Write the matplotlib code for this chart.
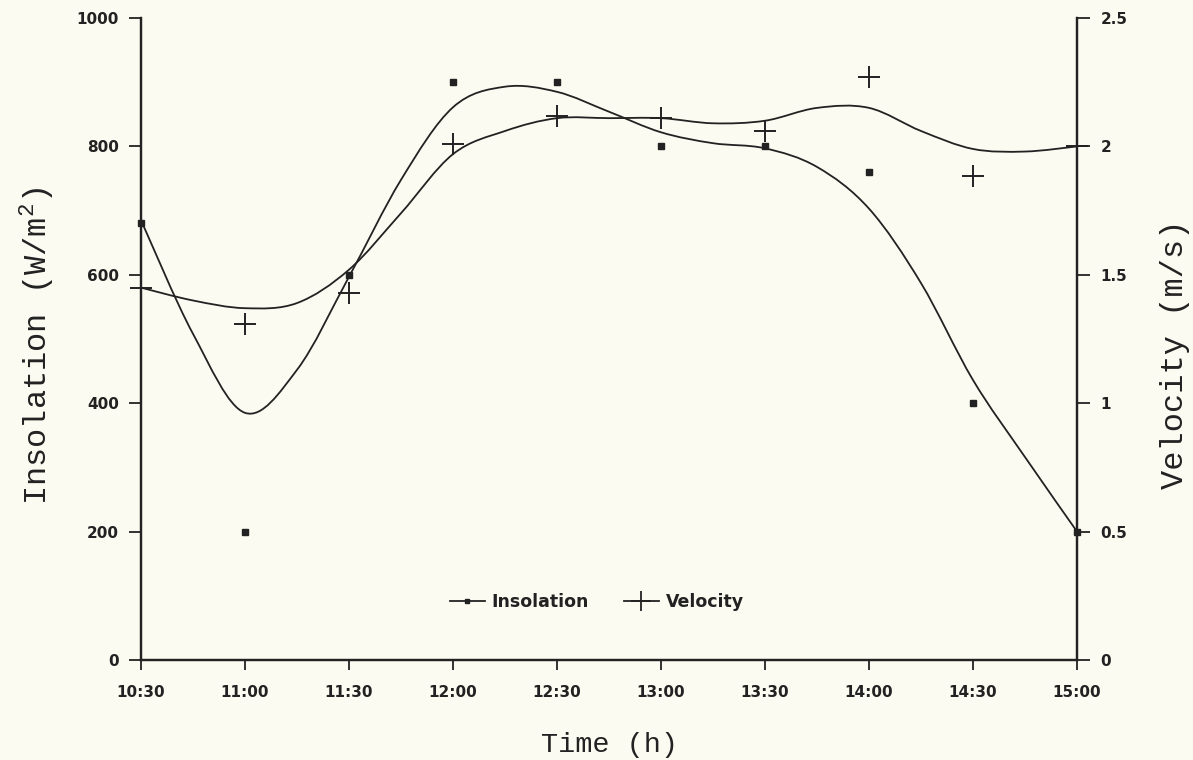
import numpy as np
import matplotlib.pyplot as plt
from matplotlib.path import Path
from matplotlib.patches import PathPatch
from matplotlib.lines import Line2D

plt.rcParams['font.family'] = ['DejaVu Sans']
plt.rcParams['mathtext.fontset'] = 'custom'
plt.rcParams['mathtext.rm'] = 'Liberation Mono'

# measured values, every half hour
times = [10.5, 11.0, 11.5, 12.0, 12.5, 13.0, 13.5, 14.0, 14.5, 15.0]
time_labels = ['10:30', '11:00', '11:30', '12:00', '12:30',
               '13:00', '13:30', '14:00', '14:30', '15:00']
insolation = [680, 200, 600, 900, 900, 800, 800, 760, 400, 200]
velocity = [1.45, 1.31, 1.43, 2.01, 2.12, 2.11, 2.06, 2.27, 1.885, 2.0]

# fitted curves as drawn in the original, read every 15 minutes
curve_times = [10.5, 10.75, 11.0, 11.25, 11.5, 11.75, 12.0, 12.25, 12.5, 12.75,
               13.0, 13.25, 13.5, 13.75, 14.0, 14.25, 14.5, 14.75, 15.0]
insolation_fit = [685, 508, 385, 452, 597, 748, 861, 893, 885, 854,
                  822, 805, 797, 768, 703, 587, 436, 316, 200]
velocity_fit = [1.45, 1.40, 1.37, 1.39, 1.52, 1.74, 1.97, 2.06, 2.11, 2.11,
                2.11, 2.09, 2.10, 2.15, 2.15, 2.06, 1.99, 1.98, 2.00]

ink = '#222222'
paper = '#fcfbf1'


def smooth_path(x, y):
    # catmull-rom through the samples, drawn as cubic bezier segments
    pts = np.column_stack([x, y]).astype(float)
    ext = np.vstack([pts[0], pts, pts[-1]])
    verts = [pts[0]]
    codes = [Path.MOVETO]
    for i in range(1, len(ext) - 2):
        p0, p1, p2, p3 = ext[i - 1], ext[i], ext[i + 1], ext[i + 2]
        verts += [p1 + (p2 - p0) / 6, p2 - (p3 - p1) / 6, p2]
        codes += [Path.CURVE4] * 3
    return Path(verts, codes)


fig = plt.figure(figsize=(11.93, 7.6), dpi=100, facecolor=paper)
ax = fig.add_axes([0.1182, 0.1316, 0.7846, 0.8447])
ax.set_facecolor(paper)
ax2 = ax.twinx()

ax.add_patch(PathPatch(smooth_path(curve_times, insolation_fit), fill=False,
                       edgecolor=ink, lw=1.3))
ax2.add_patch(PathPatch(smooth_path(curve_times, velocity_fit), fill=False,
                        edgecolor=ink, lw=1.3))

ax.plot(times, insolation, linestyle='none', marker='s', ms=4.2, color=ink,
        clip_on=False, zorder=5)
ax2.plot(times, velocity, linestyle='none', marker='+', ms=16, mew=1.4,
         color=ink, clip_on=False, zorder=5)

ax.set_xlim(10.5, 15.0)
ax.set_ylim(0, 1000)
ax2.set_ylim(0, 2.5)

ax.set_xticks(times)
ax.set_xticklabels(time_labels)
ax.set_yticks([0, 200, 400, 600, 800, 1000])
ax2.set_yticks([0, 0.5, 1, 1.5, 2, 2.5])
ax2.set_yticklabels(['0', '0.5', '1', '1.5', '2', '2.5'])

for a in (ax, ax2):
    a.spines['top'].set_visible(False)
    for s in a.spines.values():
        s.set_color(ink)
        s.set_linewidth(1.6)
    a.tick_params(colors=ink, width=1.3, labelsize=11, pad=7)
    for lbl in a.get_xticklabels() + a.get_yticklabels():
        lbl.set_fontweight('bold')
ax.tick_params(axis='y', length=9)
ax.tick_params(axis='x', length=7, pad=11)
ax2.tick_params(axis='y', length=9, pad=8)

mono = {'family': 'Liberation Mono', 'size': 23, 'color': ink}
ax.set_xlabel('Time (h)', fontdict={**mono, 'size': 20.5}, va='center')
ax.set_ylabel(r'Insolation (W/m$^{2}$)', fontdict=mono, va='center')
ax2.set_ylabel('Velocity (m/s)', fontdict=mono, va='center', rotation=90)
ax.xaxis.set_label_coords(0.5, -0.132)
ax.yaxis.set_label_coords(-0.112, 0.49)
ax2.yaxis.set_label_coords(1.105, 0.477)

handles = [Line2D([], [], color=ink, lw=1.3, marker='s', ms=3.5),
           Line2D([], [], color=ink, lw=1.3, marker='+', ms=15, mew=1.3)]
leg = ax.legend(handles, ['Insolation', 'Velocity'], loc='center',
                bbox_to_anchor=(0.487, 0.09), ncol=2, frameon=False,
                handlelength=2.0, handletextpad=0.4, columnspacing=2.0,
                prop={'size': 12.5, 'weight': 'bold'})
for t in leg.get_texts():
    t.set_color(ink)

fig.savefig('out.png', dpi=100, facecolor=paper)
